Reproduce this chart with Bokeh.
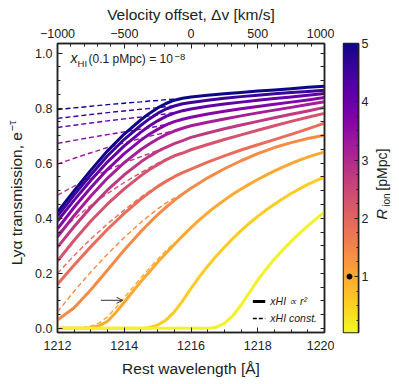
import numpy as np
from bokeh.plotting import figure
from bokeh.models import (Range1d, LinearAxis, SingleIntervalTicker, FixedTicker, Label, Arrow,
                          OpenHead, Legend, LegendItem, LinearColorMapper, ColumnDataSource,
                          PrintfTickFormatter)
from bokeh.transform import transform
from bokeh.palettes import Plasma256
from bokeh.layouts import row
from bokeh.embed import file_html
from bokeh.resources import INLINE

# ---------------- data ----------------
# wavelength grid for the R_ion >= 1.4 pMpc curves (denser around the knee)
lam_a = [1212.0, 1212.5, 1213.0, 1213.5, 1214.0, 1214.5, 1214.75, 1215.0, 1215.25, 1215.5,
         1215.75, 1216.0, 1216.5, 1217.0, 1217.5, 1218.0, 1218.5, 1219.0, 1219.5, 1220.0]
# wavelength grid for the three smallest bubbles
lam_b = [1212.0, 1212.25, 1212.5, 1212.75, 1213.0, 1213.25, 1213.5, 1213.75, 1214.0, 1214.25,
         1214.5, 1214.75, 1215.0, 1215.25, 1215.5, 1215.75, 1216.0, 1216.25, 1216.5, 1216.75,
         1217.0, 1217.25, 1217.5, 1217.75, 1218.0, 1218.25, 1218.5, 1218.75, 1219.0, 1219.25,
         1219.5, 1219.75, 1220.0]

# ionised-bubble radius of each curve [pMpc]
R_ion = [5.0, 4.55, 4.1, 3.65, 3.2, 2.75, 2.3, 1.85, 1.4, 1.0, 0.55, 0.1]
fine_grid_r2 = [False] * 9 + [True] * 3

# x_HI ∝ r^2 (solid)
T_r2 = [
    [0.423, 0.500, 0.575, 0.645, 0.706, 0.758, 0.781, 0.801, 0.817, 0.829, 0.836, 0.841, 0.847, 0.852, 0.857, 0.862, 0.866, 0.871, 0.876, 0.880],
    [0.408, 0.485, 0.558, 0.627, 0.687, 0.738, 0.761, 0.781, 0.797, 0.808, 0.816, 0.821, 0.829, 0.836, 0.842, 0.847, 0.852, 0.857, 0.861, 0.865],
    [0.390, 0.466, 0.538, 0.605, 0.663, 0.713, 0.735, 0.754, 0.770, 0.782, 0.791, 0.797, 0.807, 0.815, 0.822, 0.829, 0.835, 0.841, 0.847, 0.853],
    [0.362, 0.440, 0.512, 0.578, 0.635, 0.684, 0.705, 0.723, 0.739, 0.751, 0.760, 0.767, 0.779, 0.789, 0.798, 0.806, 0.814, 0.822, 0.830, 0.839],
    [0.333, 0.410, 0.481, 0.546, 0.602, 0.650, 0.670, 0.688, 0.704, 0.717, 0.727, 0.736, 0.749, 0.761, 0.772, 0.783, 0.793, 0.803, 0.813, 0.823],
    [0.295, 0.370, 0.440, 0.503, 0.558, 0.605, 0.625, 0.643, 0.658, 0.671, 0.682, 0.694, 0.710, 0.725, 0.739, 0.752, 0.765, 0.778, 0.790, 0.803],
    [0.245, 0.320, 0.390, 0.452, 0.507, 0.555, 0.576, 0.595, 0.612, 0.627, 0.637, 0.649, 0.668, 0.686, 0.703, 0.720, 0.736, 0.752, 0.767, 0.781],
    [0.160, 0.230, 0.297, 0.360, 0.418, 0.470, 0.493, 0.515, 0.534, 0.551, 0.566, 0.579, 0.604, 0.627, 0.648, 0.667, 0.686, 0.705, 0.725, 0.746],
    [0.030, 0.075, 0.140, 0.212, 0.285, 0.352, 0.383, 0.413, 0.440, 0.465, 0.488, 0.509, 0.547, 0.580, 0.609, 0.635, 0.657, 0.675, 0.690, 0.702],
    [0.000, 0.000, 0.000, 0.000, 0.002, 0.010, 0.026, 0.058, 0.095, 0.133, 0.170, 0.205, 0.240, 0.273, 0.305, 0.336, 0.366,
     0.394, 0.420, 0.444, 0.466, 0.487, 0.506, 0.524, 0.541, 0.557, 0.572, 0.586, 0.599, 0.611, 0.622, 0.632, 0.641],
    [0.000, 0.000, 0.000, 0.000, 0.000, 0.000, 0.000, 0.000, 0.000, 0.000, 0.000, 0.003, 0.012, 0.030, 0.060, 0.100, 0.145,
     0.187, 0.226, 0.262, 0.295, 0.326, 0.355, 0.382, 0.407, 0.430, 0.451, 0.471, 0.490, 0.507, 0.523, 0.537, 0.550],
    [0.000, 0.000, 0.000, 0.000, 0.000, 0.000, 0.000, 0.000, 0.000, 0.000, 0.000, 0.000, 0.000, 0.000, 0.000, 0.000, 0.000,
     0.000, 0.000, 0.004, 0.018, 0.045, 0.085, 0.130, 0.175, 0.215, 0.252, 0.285, 0.316, 0.345, 0.372, 0.398, 0.423],
]

# x_HI constant (dashed), up to where each joins its solid curve
R_const = [5.0, 4.55, 4.1, 3.65, 3.2, 2.75, 2.3, 1.85, 1.4, 1.0]
fine_grid_const = [False] * 9 + [True]
T_const = [
    [0.795, 0.801, 0.807, 0.813, 0.818, 0.823, 0.826, 0.828, 0.831, 0.833, 0.836],
    [0.763, 0.770, 0.777, 0.784, 0.790, 0.796, 0.799, 0.802, 0.805, 0.809, 0.816],
    [0.730, 0.738, 0.746, 0.754, 0.761, 0.768, 0.772, 0.775, 0.779, 0.784, 0.791],
    [0.672, 0.683, 0.694, 0.704, 0.714, 0.724, 0.729, 0.734, 0.741, 0.751, 0.760],
    [0.597, 0.618, 0.638, 0.657, 0.674, 0.690, 0.698, 0.705, 0.711, 0.718, 0.727],
    [0.484, 0.517, 0.547, 0.575, 0.601, 0.624, 0.635, 0.646, 0.658, 0.671, 0.682],
    [0.345, 0.398, 0.447, 0.490, 0.530, 0.566, 0.583, 0.600, 0.615, 0.628, 0.637],
    [0.200, 0.265, 0.325, 0.380, 0.430, 0.477, 0.498, 0.518, 0.536, 0.552, 0.566],
    [0.060, 0.135, 0.205, 0.270, 0.330, 0.385, 0.410, 0.434, 0.455, 0.473, 0.490],
    [0.000, 0.000, 0.000, 0.002, 0.008, 0.020, 0.042, 0.075, 0.112, 0.148, 0.184, 0.218, 0.251, 0.282, 0.311],
]

R_fiducial = 1.0
R_cbar_low, R_cbar_high = 0.04, 5.0

FONT = "Liberation Sans"
INK = "#222222"
H = 380
TOP, BOT = 43, 48
Y_RANGE = (-0.015, 1.035)

mapper = LinearColorMapper(palette=list(reversed(Plasma256)), low=R_cbar_low, high=R_cbar_high)


def xs_for(vals, fine):
    grid = lam_b if fine else lam_a
    return grid[:len(vals)]


def bare(fig):
    fig.xgrid.visible = False
    fig.ygrid.visible = False
    fig.outline_line_color = None
    fig.background_fill_color = "white"
    fig.border_fill_color = "white"


def style_axis(ax, ticker):
    ax.ticker = ticker
    ax.major_tick_in = 5
    ax.major_tick_out = 0
    ax.minor_tick_in = 3
    ax.minor_tick_out = 0
    ax.major_tick_line_color = INK
    ax.minor_tick_line_color = INK
    ax.axis_line_color = INK
    ax.axis_line_width = 1.5
    ax.major_label_text_font = FONT
    ax.major_label_text_font_size = "12.5px"
    ax.major_label_text_color = INK
    ax.axis_label_text_font = FONT
    ax.axis_label_text_font_size = "15.5px"
    ax.axis_label_text_font_style = "normal"
    ax.axis_label_text_color = INK


# ---------------- left strip for the y label ----------------
pL = figure(width=26, height=H, output_backend="svg", toolbar_location=None,
            x_range=Range1d(0, 26), y_range=Range1d(*Y_RANGE),
            min_border_left=0, min_border_right=0, min_border_top=TOP, min_border_bottom=BOT)
bare(pL)
pL.axis.visible = False
pL.add_layout(Label(x=16, y=0.229, angle=np.pi / 2, text="Lyα transmission, e",
                    text_font=FONT, text_font_size="15.5px", text_color=INK,
                    text_align="left", text_baseline="middle"))
pL.add_layout(Label(x=11, y=0.716, angle=np.pi / 2, text="\u2212τ",
                    text_font=FONT, text_font_size="11px", text_color=INK,
                    text_align="left", text_baseline="middle"))

# ---------------- main figure ----------------
p = figure(width=308, height=H, output_backend="svg", toolbar_location=None,
           x_range=Range1d(1212, 1220), y_range=Range1d(*Y_RANGE),
           min_border_left=31, min_border_right=10, min_border_top=TOP, min_border_bottom=BOT)
bare(p)
p.outline_line_color = INK
p.outline_line_width = 1.5
p.extra_x_ranges = {"vel": Range1d(-1000, 1000)}

xa = p.xaxis[0]
style_axis(xa, SingleIntervalTicker(interval=2, num_minor_ticks=4))
xa.axis_label = "Rest wavelength [Å]"
xa.major_label_standoff = 8
xa.axis_label_standoff = 7

ya = p.yaxis[0]
style_axis(ya, SingleIntervalTicker(interval=0.2, num_minor_ticks=4))
ya.formatter = PrintfTickFormatter(format="%.1f")
ya.major_label_standoff = 5

top = LinearAxis(x_range_name="vel")
style_axis(top, SingleIntervalTicker(interval=500, num_minor_ticks=5))
top.axis_label = "Velocity offset, Δv [km/s]"
top.major_label_overrides = {-1000: "\u22121000", -500: "\u2212500"}
top.major_label_standoff = 6
top.axis_label_standoff = 3
p.add_layout(top, "above")

right = LinearAxis()
style_axis(right, FixedTicker(ticks=[], minor_ticks=[round(0.05 * i, 2) for i in range(21)]))
right.minor_tick_in = 4
p.add_layout(right, "right")

# curves
src_c = ColumnDataSource(dict(xs=[xs_for(t, f) for t, f in zip(T_const, fine_grid_const)],
                              ys=T_const, R=R_const))
p.multi_line("xs", "ys", source=src_c, line_color=transform("R", mapper),
             line_width=1.4, line_dash="5 3")
src_s = ColumnDataSource(dict(xs=[xs_for(t, f) for t, f in zip(T_r2, fine_grid_r2)],
                              ys=T_r2, R=R_ion))
p.multi_line("xs", "ys", source=src_s, line_color=transform("R", mapper), line_width=3,
             line_join="round")

# legend (proxies with no visible points)
leg_solid = p.line(x=lam_a[:2], y=[np.nan, np.nan], line_color="black", line_width=3)
leg_dash = p.line(x=lam_a[:2], y=[np.nan, np.nan], line_color="black", line_width=1.4,
                  line_dash="4 2")
legend = Legend(items=[LegendItem(label="xHI \u221d r\u00b2", renderers=[leg_solid]),
                       LegendItem(label="xHI const.", renderers=[leg_dash])],
                location="bottom_right", border_line_alpha=0, background_fill_alpha=0,
                label_text_font=FONT, label_text_font_size="10.5px", label_text_font_style="italic",
                label_text_color=INK,
                glyph_width=13, glyph_height=14, label_height=14, label_standoff=5,
                spacing=3, padding=4, margin=3)
p.add_layout(legend)

# arrow
p.add_layout(Arrow(end=OpenHead(size=6, line_width=1, line_color="#333333"),
                   x_start=1213.3, y_start=0.102, x_end=1213.95, y_end=0.102,
                   line_width=1, line_color="#333333"))

# annotation x_HI(0.1 pMpc) = 10^-8
ax0, ay0 = 1212.39, 0.953
p.add_layout(Label(x=ax0, y=ay0, text="x", text_font=FONT, text_font_size="14px",
                   text_font_style="italic", text_color=INK))
p.add_layout(Label(x=ax0, y=ay0, x_offset=7, y_offset=-3, text="HI", text_font=FONT,
                   text_font_size="9.5px", text_color=INK))
p.add_layout(Label(x=ax0, y=ay0, x_offset=18, text="(0.1 pMpc) = 10", text_font=FONT,
                   text_font_size="12px", text_color=INK))
p.add_layout(Label(x=ax0, y=ay0, x_offset=104, y_offset=6, text="\u22128", text_font=FONT,
                   text_font_size="9.5px", text_color=INK))

# ---------------- colour bar ----------------
p2 = figure(width=38, height=H, output_backend="svg", toolbar_location=None,
            x_range=Range1d(0, 1), y_range=Range1d(R_cbar_low, R_cbar_high),
            y_axis_location="right",
            min_border_left=9, min_border_right=14, min_border_top=TOP, min_border_bottom=BOT)
bare(p2)
p2.outline_line_color = INK
p2.outline_line_width = 1.5
p2.xaxis.visible = False
grad = np.linspace(R_cbar_low, R_cbar_high, 256).reshape(-1, 1)
p2.image(image=[grad], x=0, y=R_cbar_low, dw=1, dh=R_cbar_high - R_cbar_low, color_mapper=mapper)
p2.scatter(x=[0.4], y=[R_fiducial], size=5, color="black")
cy = p2.yaxis[0]
style_axis(cy, SingleIntervalTicker(interval=1, num_minor_ticks=4))
cy.major_tick_in = 4
cy.minor_tick_in = 2
cy.major_label_standoff = 3

# ---------------- right strip for colour-bar label ----------------
pR = figure(width=27, height=H, output_backend="svg", toolbar_location=None,
            x_range=Range1d(372, 399), y_range=Range1d(R_cbar_low, R_cbar_high),
            min_border_left=0, min_border_right=0, min_border_top=TOP, min_border_bottom=BOT)
bare(pR)
pR.axis.visible = False
pR.add_layout(Label(x=381, y=5 - (219 - 43) / 58.2, angle=np.pi / 2, text="R",
                    text_font=FONT, text_font_size="15px", text_font_style="italic",
                    text_color=INK, text_align="left", text_baseline="middle"))
pR.add_layout(Label(x=386, y=5 - (206 - 43) / 58.2, angle=np.pi / 2, text="ion",
                    text_font=FONT, text_font_size="10px", text_color=INK,
                    text_align="left", text_baseline="middle"))
pR.add_layout(Label(x=381, y=5 - (190 - 43) / 58.2, angle=np.pi / 2, text="[pMpc]",
                    text_font=FONT, text_font_size="14px", text_color=INK,
                    text_align="left", text_baseline="middle"))

layout = row(pL, p, p2, pR)
open("out.html", "w").write(file_html(layout, INLINE))
